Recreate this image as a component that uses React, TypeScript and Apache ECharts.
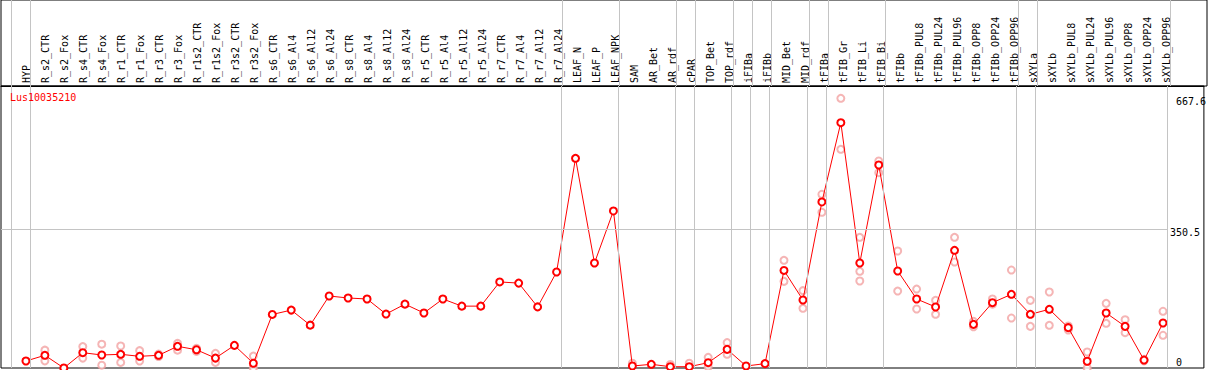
import React, { useEffect, useRef } from "react";
import * as echarts from "echarts";

const geneId = "Lus10035210";

const categories = [
  "HYP", "R_s2_CTR", "R_s2_Fox", "R_s4_CTR", "R_s4_Fox", "R_r1_CTR", "R_r1_Fox", "R_r3_CTR", "R_r3_Fox",
  "R_r1s2_CTR", "R_r1s2_Fox", "R_r3s2_CTR", "R_r3s2_Fox", "R_s6_CTR", "R_s6_Al4", "R_s6_Al12", "R_s6_Al24",
  "R_s8_CTR", "R_s8_Al4", "R_s8_Al12", "R_s8_Al24", "R_r5_CTR", "R_r5_Al4", "R_r5_Al12", "R_r5_Al24",
  "R_r7_CTR", "R_r7_Al4", "R_r7_Al12", "R_r7_Al24", "LEAF_N", "LEAF_P", "LEAF_NPK", "SAM", "AR_Bet", "AR_rdf",
  "cPAR", "TOP_Bet", "TOP_rdf", "iFIBa", "iFIBb", "MID_Bet", "MID_rdf", "tFIBa", "tFIB_Gr", "tFIB_Li", "tFIB_Bi",
  "tFIBb", "tFIBb_PUL8", "tFIBb_PUL24", "tFIBb_PUL96", "tFIBb_OPP8", "tFIBb_OPP24", "tFIBb_OPP96",
  "sXYLa", "sXYLb", "sXYLb_PUL8", "sXYLb_PUL24", "sXYLb_PUL96", "sXYLb_OPP8", "sXYLb_OPP24", "sXYLb_OPP96",
];

const means = [
  17.6, 32, 0, 38.6, 32.8, 34.5, 29.5, 32, 54.7, 46, 25, 57, 12, 135, 146, 108, 181.5, 176.5, 174, 136, 161,
  138.7, 174, 156, 156, 217, 214, 154, 242, 528.7, 264.7, 395.9, 5, 9.3, 3.3, 3.3, 13.4, 47, 5, 11, 246, 171.5,
  418.6, 618.5, 264.7, 511.8, 244.6, 174, 153.8, 296.7, 110, 164.7, 185.8, 135.4, 148, 101.7, 17, 138.7, 105, 20, 113.5,
];

const repHigh = [
  null, 45, null, 54, 60, 55.5, 43.7, 35, 62, 49.6, 37, null, 30, null, null, null, null, null, null, null, null,
  null, null, null, null, null, null, null, null, null, null, null, 12, null, 9, 12, 27, 64, null, null, 271.5, 195,
  438, 680, 329.5, 522, 295, 199, 170.6, 329.5, 117.7, 174, 247, 170.6, 191.6, 106, 40.3, 163, 121.8, 22, 143,
];

const repLow = [
  null, 18, null, 25, 7, 14, 17.6, 29, 45, 42, 14, null, 0, null, null, null, null, null, null, null, null,
  null, null, null, null, null, null, null, null, null, null, null, null, null, null, null, 3, 34.5, null, null, 218.5, 150.5,
  392.6, 551.4, 219.4, 492.5, 194, 148.8, 135.4, 267.3, 104, 161, 126, 105, 107.6, 95.8, 0, 112.7, 89, 18, 82.5,
];

const repExtra = [
  null, null, null, null, null, null, null, null, null, null, null, null, null, null, null, null, null, null, null, null, null,
  null, null, null, null, null, null, null, null, null, null, null, null, null, null, null, null, null, null, null, null, null,
  null, null, 243.8, null, null, null, null, null, null, null, null, null, null, null, null, null, null, null, null,
];

// group separators are drawn just after these category indices
const sepAfter = [-1, 0, 28, 31, 34, 35, 37, 38, 39, 41, 42, 45, 52, 53, 60];

const yTicks = [0, 350.5, 667.6];
const yTickStyleKeys = ["z", "m", "t"];

const MONO = "'DejaVu Sans Mono', monospace";

export default function App() {
  const ref = useRef<HTMLDivElement>(null);

  useEffect(() => {
    if (!ref.current) return;
    const chart = echarts.init(ref.current, undefined, { renderer: "svg" });

    const xMin = (1 - 26) / 19;
    const xMax = (1207 - 26) / 19;
    const sepOffset = 0.24;

    const reps: number[][] = [];
    [repHigh, repLow, repExtra].forEach((arr) =>
      arr.forEach((v, i) => {
        if (v !== null && v !== undefined) reps.push([i, v]);
      })
    );

    const meanData = means.map((v, i) => [i, v]);
    const labelAnchors = categories.map((_, i) => [i, 0]);
    const sepLines = sepAfter.map((i) => ({ xAxis: i + sepOffset }));
    const sepStyle = { color: "#c4c4c4", width: 1, type: "solid" };

    chart.setOption({
      animation: false,
      title: {
        text: geneId,
        left: 10,
        top: 91,
        padding: 0,
        textStyle: { color: "#ff0000", fontSize: 10, fontWeight: "normal", fontFamily: MONO, lineHeight: 12 },
      },
      grid: [
        { left: 1, right: 2, top: 86, height: 282, show: true, borderColor: "#000", borderWidth: 1, backgroundColor: "transparent" },
        { left: 1, right: 2, top: 0, height: 86, show: true, borderColor: "#000", borderWidth: 1, backgroundColor: "transparent" },
      ],
      xAxis: [
        {
          gridIndex: 0,
          type: "value",
          position: "top",
          min: xMin,
          max: xMax,
          axisLine: { show: true, onZero: false, lineStyle: { color: "#000", width: 1 } },
          axisTick: { show: false },
          splitLine: { show: false },
          axisLabel: { show: false },
        },
        { gridIndex: 1, type: "value", min: xMin, max: xMax, show: false },
      ],
      yAxis: [
        {
          gridIndex: 0,
          type: "value",
          position: "right",
          min: 0,
          max: 711,
          axisLine: { show: false },
          axisTick: { show: false },
          splitLine: { show: false },
          axisLabel: {
            customValues: yTicks,
            inside: true,
            align: "left",
            margin: 34,
            color: "#000",
            fontFamily: MONO,
            fontSize: 10,
            formatter: (v: number) => {
              const idx = yTicks.indexOf(v);
              const s = v === 0 ? "0" : v.toFixed(1);
              return `{${yTickStyleKeys[idx] ?? "t"}|${s}}`;
            },
            rich: {
              z: { padding: [0, 0, 11, 6], fontFamily: MONO, fontSize: 10, color: "#000" },
              m: { padding: [7, 0, 0, 0], fontFamily: MONO, fontSize: 10, color: "#000" },
              t: { padding: [0, 0, 3, 6], fontFamily: MONO, fontSize: 10, color: "#000" },
            },
          },
        },
        { gridIndex: 1, type: "value", min: 0, max: 1, show: false },
      ],
      series: [
        {
          type: "scatter",
          xAxisIndex: 1,
          yAxisIndex: 1,
          data: labelAnchors,
          symbol: "circle",
          symbolSize: 0,
          clip: false,
          itemStyle: { color: "rgba(0,0,0,0)" },
          silent: true,
          label: {
            show: true,
            position: "top",
            distance: 3,
            rotate: 90,
            align: "left",
            verticalAlign: "middle",
            formatter: (p: any) => categories[p.dataIndex],
            color: "#000",
            opacity: 1,
            fontFamily: MONO,
            fontSize: 10,
          },
          labelLayout: { hideOverlap: false },
          markLine: {
            silent: true,
            symbol: "none",
            precision: 4,
            label: { show: false },
            lineStyle: sepStyle,
            data: sepLines,
          },
        },
        {
          type: "scatter",
          data: reps,
          z: 2,
          symbol: "emptyCircle",
          symbolSize: 7,
          itemStyle: { color: "#f2a2a2", borderColor: "#f2a2a2", borderWidth: 1.3 },
          silent: true,
          markLine: {
            silent: true,
            symbol: "none",
            precision: 4,
            label: { show: false },
            lineStyle: sepStyle,
            data: [
              ...sepLines,
              [{ coord: [xMin, yTicks[1]] }, { coord: [sepAfter[sepAfter.length - 1] + sepOffset, yTicks[1]] }],
            ],
          },
        },
        {
          type: "line",
          data: meanData,
          z: 3,
          symbol: "emptyCircle",
          symbolSize: 7,
          showAllSymbol: true,
          lineStyle: { color: "#ff0000", width: 1 },
          itemStyle: { color: "#ff0000", borderColor: "#ff0000", borderWidth: 1.5 },
          silent: true,
        },
      ],
    });

    return () => chart.dispose();
  }, []);

  return (
    <div
      ref={ref}
      style={{ position: "absolute", left: 0, top: 0, width: 1209, height: 370, background: "#fff" }}
    />
  );
}
